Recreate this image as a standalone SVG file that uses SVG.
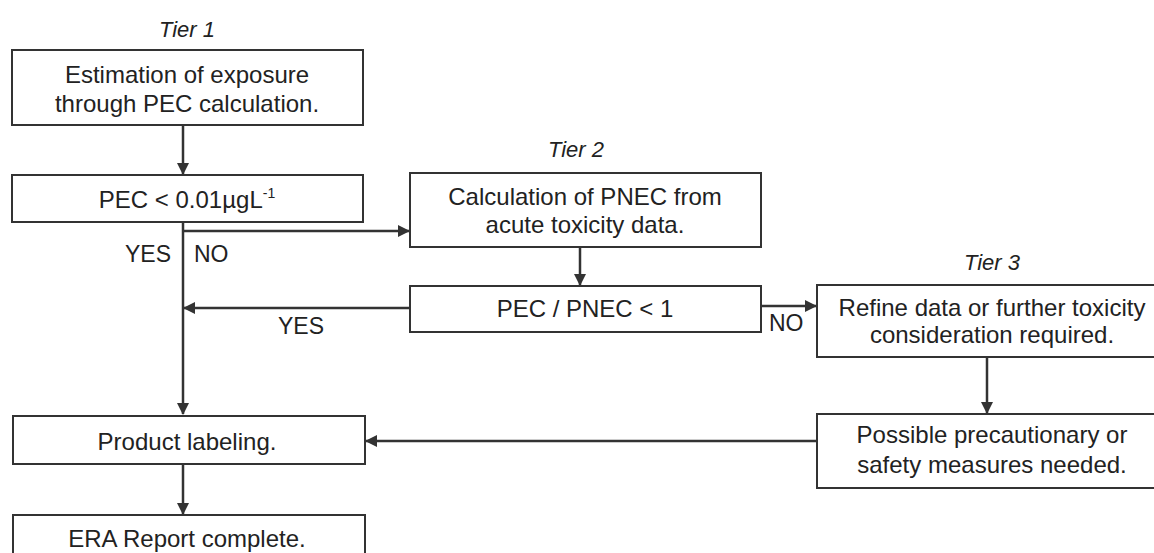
<svg xmlns="http://www.w3.org/2000/svg" width="1154" height="553" viewBox="0 0 1154 553">
<style>
.box{fill:#fff;stroke:#333;stroke-width:2}
.t{font-family:"Liberation Sans",Arial,sans-serif;font-size:24px;fill:#222;text-anchor:middle}
.lbl{font-family:"Liberation Sans",Arial,sans-serif;font-size:23px;fill:#222}
.tier{font-family:"Liberation Sans",Arial,sans-serif;font-size:22px;font-style:italic;fill:#222;text-anchor:middle}
.c{fill:none;stroke:#333;stroke-width:2.5}
</style>
<defs>
<marker id="ah" markerWidth="12" markerHeight="12" refX="11" refY="6" orient="auto" markerUnits="userSpaceOnUse" viewBox="0 0 12 12">
<path d="M0,0 L12,6 L0,12 Z" fill="#333"/>
</marker>
</defs>
<rect width="1154" height="553" fill="#fff"/>
<text class="tier" x="187" y="37">Tier 1</text>
<text class="tier" x="576" y="157">Tier 2</text>
<text class="tier" x="992" y="270">Tier 3</text>
<g id="connectors">
<line class="c" x1="183" y1="125" x2="183" y2="174" marker-end="url(#ah)"/>
<line class="c" x1="183" y1="222" x2="183" y2="414" marker-end="url(#ah)"/>
<line class="c" x1="183" y1="231" x2="409" y2="231" marker-end="url(#ah)"/>
<line class="c" x1="580" y1="247" x2="580" y2="285" marker-end="url(#ah)"/>
<line class="c" x1="410" y1="308" x2="184" y2="308" marker-end="url(#ah)"/>
<line class="c" x1="761" y1="306" x2="816" y2="306" marker-end="url(#ah)"/>
<line class="c" x1="987" y1="357" x2="987" y2="413" marker-end="url(#ah)"/>
<line class="c" x1="817" y1="441" x2="366" y2="441" marker-end="url(#ah)"/>
<line class="c" x1="183" y1="464" x2="183" y2="514" marker-end="url(#ah)"/>
<text class="lbl" x="171" y="262" text-anchor="end">YES</text>
<text class="lbl" x="194" y="262">NO</text>
<text class="lbl" x="278" y="334">YES</text>
<text class="lbl" x="769" y="331" font-size="22">NO</text>
</g>
<g id="n1">
<rect class="box" x="12" y="50" width="351" height="75"/>
<text class="t" x="187" y="83">Estimation of exposure</text>
<text class="t" x="187" y="112">through PEC calculation.</text>
</g>
<g id="n2">
<rect class="box" x="12" y="175" width="351" height="47"/>
<text class="t" x="187" y="208">PEC &lt; 0.01µgL<tspan font-size="14" dy="-10">-1</tspan></text>
</g>
<g id="n3">
<rect class="box" x="410" y="173" width="351" height="74"/>
<text class="t" x="585" y="205">Calculation of PNEC from</text>
<text class="t" x="585" y="233">acute toxicity data.</text>
</g>
<g id="n4">
<rect class="box" x="410" y="286" width="351" height="46"/>
<text class="t" x="585" y="317">PEC / PNEC &lt; 1</text>
</g>
<g id="n5">
<rect class="box" x="817" y="285" width="345" height="72"/>
<text class="t" x="992" y="316">Refine data or further toxicity</text>
<text class="t" x="992" y="343">consideration required.</text>
</g>
<g id="n6">
<rect class="box" x="817" y="414" width="345" height="74"/>
<text class="t" x="992" y="443">Possible precautionary or</text>
<text class="t" x="992" y="473">safety measures needed.</text>
</g>
<g id="n7">
<rect class="box" x="13" y="416" width="352" height="48"/>
<text class="t" x="187" y="450">Product labeling.</text>
</g>
<g id="n8">
<rect class="box" x="13" y="515" width="352" height="50"/>
<text class="t" x="187" y="547">ERA Report complete.</text>
</g>
</svg>
